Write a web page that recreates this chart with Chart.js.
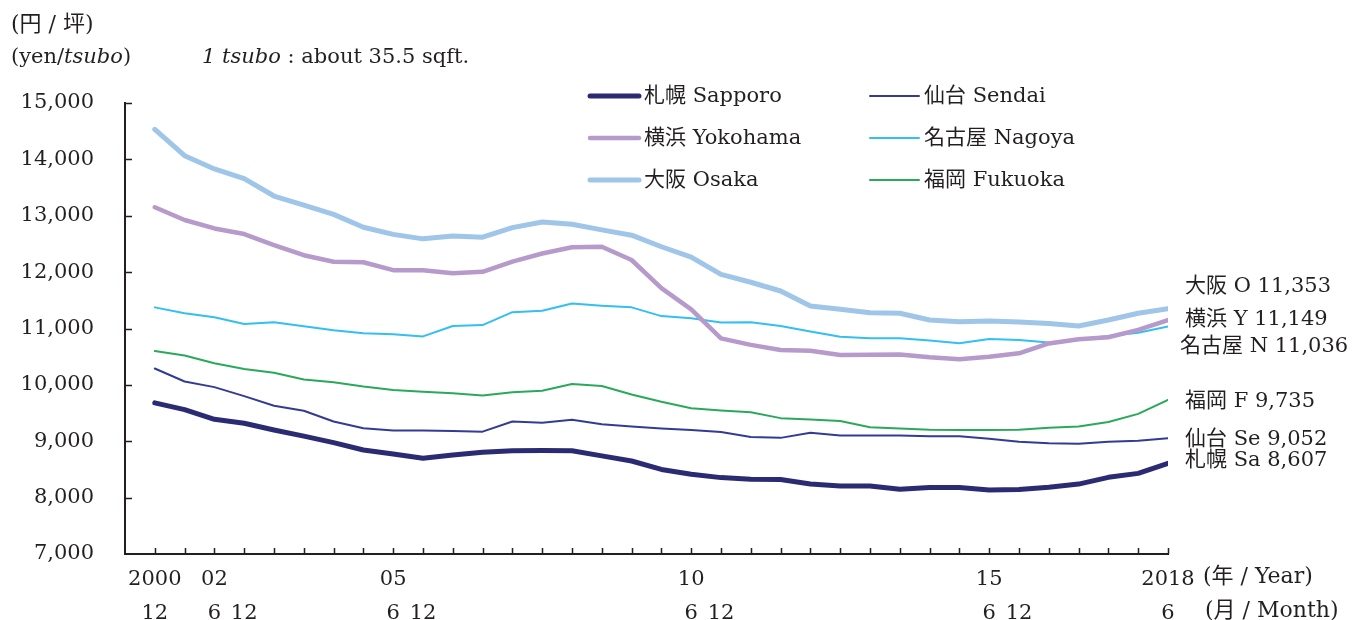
<!DOCTYPE html>
<html>
<head>
<meta charset="utf-8">
<script src="https://cdn.jsdelivr.net/npm/chart.js@4.4.1/dist/chart.umd.min.js"></script>
<style>
  html, body { margin: 0; padding: 0; background: #fff; }
  #wrap { width: 1370px; height: 620px; }
</style>
</head>
<body>
<div id="wrap"><canvas id="chart" width="1370" height="620"></canvas></div>
<script>
// half-yearly survey points, 2000/12 .. 2018/6
const periods = [
  '2000/12', '2001/12', '2002/6', '2002/12', '2003/6', '2003/12', '2004/6', '2004/12',
  '2005/6', '2005/12', '2006/6', '2006/12', '2007/6', '2007/12', '2008/6', '2008/12',
  '2009/6', '2009/12', '2010/6', '2010/12', '2011/6', '2011/12', '2012/6', '2012/12',
  '2013/6', '2013/12', '2014/6', '2014/12', '2015/6', '2015/12', '2016/6', '2016/12',
  '2017/6', '2017/12', '2018/6'
];
const tickYears = ['2000', '', '02', '', '', '', '', '', '05', '', '', '', '', '', '', '', '', '',
  '10', '', '', '', '', '', '', '', '', '', '15', '', '', '', '', '', '2018'];
const tickMonths = ['12', '', '6', '12', '', '', '', '', '6', '12', '', '', '', '', '', '', '', '',
  '6', '12', '', '', '', '', '', '', '', '', '6', '12', '', '', '', '', '6'];

const sapporo = [9680, 9560, 9390, 9320, 9200, 9090, 8975, 8845, 8775, 8700, 8755, 8805, 8830, 8835, 8830, 8740, 8650, 8500,
  8415, 8355, 8325, 8320, 8240, 8205, 8205, 8150, 8180, 8180, 8135, 8145, 8185, 8240, 8360, 8430, 8607];
const sendai = [10290, 10060, 9960, 9800, 9630, 9540, 9350, 9230, 9190, 9190, 9180, 9170, 9350, 9330, 9380, 9300, 9260, 9225,
  9200, 9165, 9075, 9060, 9150, 9100, 9100, 9100, 9090, 9090, 9045, 8990, 8965, 8955, 8990, 9010, 9052];
const yokohama = [13150, 12925, 12775, 12675, 12480, 12300, 12185, 12175, 12035, 12035, 11980, 12005, 12185, 12330, 12440, 12450, 12215, 11715,
  11340, 10825, 10710, 10620, 10605, 10530, 10535, 10540, 10490, 10455, 10500, 10560, 10735, 10810, 10845, 10975, 11149];
const nagoya = [11375, 11270, 11200, 11080, 11110, 11040, 10970, 10915, 10900, 10860, 11045, 11060, 11290, 11315, 11445, 11405, 11375, 11220,
  11180, 11105, 11110, 11045, 10945, 10855, 10825, 10825, 10785, 10740, 10815, 10795, 10750, 10810, 10865, 10925, 11036];
const osaka = [14530, 14065, 13830, 13660, 13350, 13190, 13025, 12795, 12670, 12590, 12640, 12620, 12790, 12890, 12850, 12750, 12655, 12450,
  12265, 11960, 11820, 11665, 11400, 11340, 11280, 11270, 11150, 11120, 11135, 11115, 11090, 11045, 11150, 11270, 11353];
const fukuoka = [10600, 10520, 10385, 10280, 10215, 10095, 10045, 9970, 9910, 9880, 9850, 9810, 9870, 9895, 10015, 9980, 9830, 9700,
  9585, 9545, 9515, 9410, 9385, 9360, 9250, 9225, 9205, 9200, 9200, 9205, 9240, 9260, 9340, 9485, 9735];

const FONT = '"DejaVu Serif", "Noto Sans CJK JP", serif';
const INK = '#231f20';

function series(label, short, values, color, width, endShift) {
  return {
    label: label,
    short: short,
    endShift: endShift,
    data: values.map((v, i) => ({ x: i, y: v })),
    borderColor: color,
    backgroundColor: color,
    borderWidth: width,
    pointRadius: 0,
    tension: 0,
    borderJoinStyle: 'round',
    borderCapStyle: 'round'
  };
}

const datasets = [
  series('札幌 Sapporo', '札幌 Sa', sapporo, '#2b2b73', 5, -3),
  series('横浜 Yokohama', '横浜 Y', yokohama, '#b69acb', 4.5, -1),
  series('大阪 Osaka', '大阪 O', osaka, '#9fc5e8', 5, -22),
  series('仙台 Sendai', '仙台 Se', sendai, '#333b94', 2, 1),
  series('名古屋 Nagoya', '名古屋 N', nagoya, '#33bff0', 2, 20),
  series('福岡 Fukuoka', '福岡 F', fukuoka, '#2aa95a', 2, 2)
];

const decorations = {
  id: 'decorations',
  afterDraw(chart) {
    const ctx = chart.ctx;
    const xs = chart.scales.x, ys = chart.scales.y;
    const area = chart.chartArea;
    ctx.save();
    ctx.strokeStyle = INK;
    ctx.lineWidth = 1.5;
    // inward tick marks
    ctx.beginPath();
    for (let i = 0; i < periods.length; i++) {
      const px = Math.round(xs.getPixelForValue(i)) + 0.5;
      ctx.moveTo(px, area.bottom);
      ctx.lineTo(px, area.bottom - 6);
    }
    for (let v = 8000; v <= 15000; v += 1000) {
      const py = Math.round(ys.getPixelForValue(v)) + 0.5;
      ctx.moveTo(area.left, py);
      ctx.lineTo(area.left + 7, py);
    }
    ctx.stroke();

    ctx.fillStyle = INK;
    ctx.textBaseline = 'middle';
    ctx.textAlign = 'left';
    // unit header
    ctx.font = '22px ' + FONT;
    ctx.fillText('(円 / 坪)', 11, 25);
    let x = 11;
    const parts = [['(yen/', ''], ['tsubo', 'italic '], [')', '']];
    for (const [t, st] of parts) {
      ctx.font = st + '21px ' + FONT;
      ctx.fillText(t, x, 58);
      x += ctx.measureText(t).width;
    }
    x = 202;
    const note = [['1 tsubo', 'italic '], [' : about 35.5 sqft.', '']];
    for (const [t, st] of note) {
      ctx.font = st + '21px ' + FONT;
      ctx.fillText(t, x, 58);
      x += ctx.measureText(t).width;
    }

    // axis unit labels
    ctx.font = '22px ' + FONT;
    ctx.fillText('(年 / Year)', 1203, 577);
    ctx.fillText('(月 / Month)', 1205, 611);

    // legend, two columns
    ctx.lineCap = 'round';
    const cols = [[0, 1, 2], [3, 4, 5]];
    const colX = [590, 870];
    const rowY = [96, 138, 180];
    cols.forEach((col, c) => {
      col.forEach((di, r) => {
        const ds = chart.data.datasets[di];
        ctx.strokeStyle = ds.borderColor;
        ctx.lineWidth = ds.borderWidth;
        ctx.beginPath();
        ctx.moveTo(colX[c], rowY[r]);
        ctx.lineTo(colX[c] + 49, rowY[r]);
        ctx.stroke();
        ctx.fillStyle = INK;
        ctx.font = '21px ' + FONT;
        ctx.fillText(ds.label, colX[c] + 54, rowY[r] + 1);
      });
    });

    // latest values at right end
    ctx.font = '21px ' + FONT;
    chart.data.datasets.forEach(ds => {
      const last = ds.data[ds.data.length - 1].y;
      const py = ys.getPixelForValue(last) + ds.endShift;
      const txt = ds.short + ' ' + last.toLocaleString('en-US');
      const lx = ds.short.split(' ')[0].length > 2 ? 1180 : 1185;
      ctx.fillText(txt, lx, py);
    });
    ctx.restore();
  }
};

new Chart(document.getElementById('chart'), {
  type: 'line',
  data: { datasets: datasets },
  options: {
    responsive: false,
    animation: false,
    devicePixelRatio: 1,
    layout: { padding: { left: 0, right: 202, top: 103, bottom: 0 } },
    plugins: { legend: { display: false }, tooltip: { enabled: false } },
    scales: {
      x: {
        type: 'linear',
        min: -1,
        max: periods.length - 1,
        afterFit(scale) { scale.height = 66; },
        border: { color: INK, width: 2 },
        grid: { display: true, drawOnChartArea: false, drawTicks: false },
        ticks: {
          stepSize: 1,
          autoSkip: false,
          maxRotation: 0,
          padding: 9,
          color: INK,
          font: { family: FONT, size: 21, lineHeight: 1.62 },
          callback(value) {
            const i = Math.round(value);
            if (i < 0 || i >= periods.length) return '';
            if (!tickYears[i] && !tickMonths[i]) return '';
            return [tickYears[i], tickMonths[i]];
          }
        }
      },
      y: {
        min: 7000,
        max: 15000,
        afterFit(scale) { scale.width = 125; },
        border: { color: INK, width: 2 },
        grid: { display: true, drawOnChartArea: false, drawTicks: false },
        ticks: {
          stepSize: 1000,
          padding: 31,
          color: INK,
          font: { family: FONT, size: 21 },
          callback(value) { return value.toLocaleString('en-US'); }
        }
      }
    }
  },
  plugins: [decorations]
});
</script>
</body>
</html>
